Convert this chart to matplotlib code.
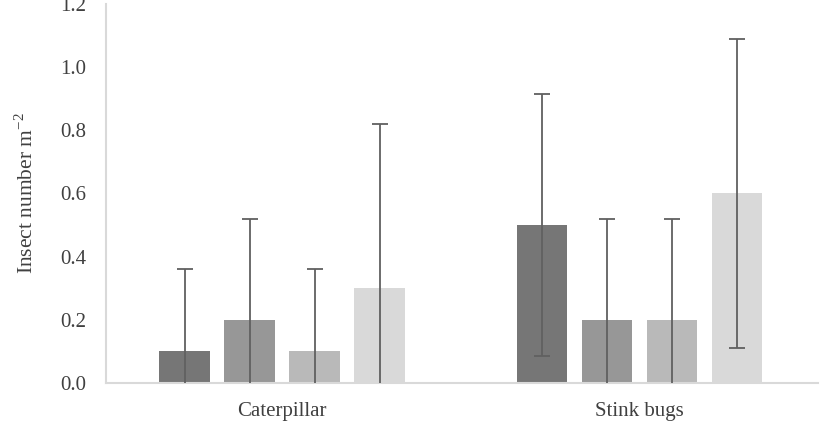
import numpy as np
import matplotlib
matplotlib.use('Agg')
import matplotlib.pyplot as plt

plt.rcParams['font.family'] = ['Liberation Serif', 'DejaVu Serif']
plt.rcParams['mathtext.fontset'] = 'stix'

categories = ['Caterpillar', 'Stink bugs']
means = [[0.1, 0.2, 0.1, 0.3],    # Caterpillar
         [0.5, 0.2, 0.2, 0.6]]    # Stink bugs
errors = [[0.26, 0.32, 0.26, 0.52],
          [0.415, 0.32, 0.32, 0.49]]
colors = ['#767676', '#979797', '#b9b9b9', '#d9d9d9']

fig = plt.figure(figsize=(8.21, 4.24), dpi=100)
ax = fig.add_axes([0.129, 0.0967, 0.867, 0.894])

group_gap = 5.5
n = len(colors)
for g, cat in enumerate(categories):
    for i in range(n):
        x = g * group_gap + i
        ax.bar(x, means[g][i], width=0.78, color=colors[i], zorder=2)
        ax.errorbar(x, means[g][i], yerr=errors[g][i], fmt='none',
                    ecolor='#606060', elinewidth=1.3, capsize=6, capthick=1.3,
                    zorder=3)

centers = [g * group_gap + (n - 1) / 2 for g in range(len(categories))]
ax.set_xticks(centers)
ax.set_xticklabels(categories)
ax.set_xlim(-1.21, 9.74)
ax.set_ylim(0, 1.2)
ax.set_yticks(np.arange(0, 1.21, 0.2))
ax.set_yticklabels(['%.1f' % v for v in np.arange(0, 1.21, 0.2)])
ax.set_ylabel('Insect number m$^{\\mathregular{-2}}$', fontsize=15.5, color='#404040', labelpad=16)

for s in ['top', 'right']:
    ax.spines[s].set_visible(False)
for s in ['left', 'bottom']:
    ax.spines[s].set_color('#d9d9d9')
    ax.spines[s].set_linewidth(1.5)
ax.tick_params(axis='y', length=0, pad=14, labelsize=15, labelcolor='#404040')
ax.tick_params(axis='x', length=0, pad=14, labelsize=15, labelcolor='#404040')

fig.savefig('out.png', dpi=100)
